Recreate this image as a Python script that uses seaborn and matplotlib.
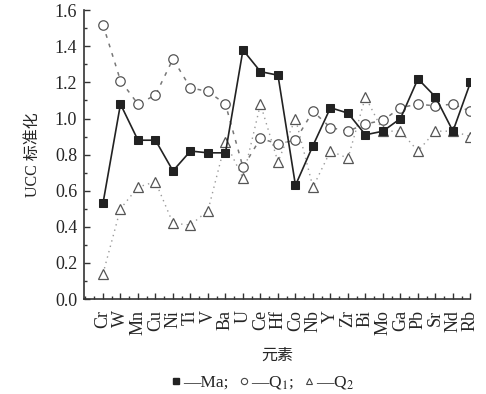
import numpy as np
import pandas as pd
import matplotlib
matplotlib.use("Agg")
import matplotlib.pyplot as plt
from matplotlib.lines import Line2D
from matplotlib.ticker import MultipleLocator
import seaborn as sns

elements = ["Cr", "W", "Mn", "Cu", "Ni", "Ti", "V", "Ba", "U", "Ce", "Hf",
            "Co", "Nb", "Y", "Zr", "Bi", "Mo", "Ga", "Pb", "Sr", "Nd", "Rb"]
ma = [0.53, 1.08, 0.88, 0.88, 0.71, 0.82, 0.81, 0.81, 1.38, 1.26, 1.24,
      0.63, 0.85, 1.06, 1.03, 0.91, 0.93, 1.00, 1.22, 1.12, 0.93, 1.20]
q1 = [1.52, 1.21, 1.08, 1.13, 1.33, 1.17, 1.15, 1.08, 0.73, 0.89, 0.86,
      0.88, 1.04, 0.95, 0.93, 0.97, 0.99, 1.06, 1.08, 1.07, 1.08, 1.04]
q2 = [0.14, 0.50, 0.62, 0.65, 0.42, 0.41, 0.49, 0.87, 0.67, 1.08, 0.76,
      1.00, 0.62, 0.82, 0.78, 1.12, 0.93, 0.93, 0.82, 0.93, 0.93, 0.90]

sns.set_style("ticks")
plt.rcParams["font.family"] = ["Liberation Serif", "Noto Sans CJK SC", "DejaVu Sans"]
plt.rcParams["mathtext.fontset"] = "stix"
plt.rcParams["xtick.direction"] = "in"
plt.rcParams["ytick.direction"] = "in"

df = pd.DataFrame({"pos": np.arange(len(elements)), "Ma": ma, "Q1": q1, "Q2": q2})

fig = plt.figure(figsize=(4.86, 3.94), dpi=100)
ax = fig.add_axes([0.173, 0.241, 0.795, 0.733])

sns.lineplot(data=df, x="pos", y="Q2", ax=ax, color="#9a9a9a", linestyle=(0, (1, 3)),
             linewidth=1.0, marker="^", markersize=7.5, markerfacecolor="white",
             markeredgecolor="#555555", markeredgewidth=0.9, zorder=2)
sns.lineplot(data=df, x="pos", y="Q1", ax=ax, color="#777777", linestyle=(0, (2.5, 4)),
             linewidth=1.1, marker="o", markersize=6.8, markerfacecolor="white",
             markeredgecolor="#555555", markeredgewidth=0.9, zorder=3)
sns.lineplot(data=df, x="pos", y="Ma", ax=ax, color="#222222", linestyle="-",
             linewidth=1.2, marker="s", markersize=5.2, markerfacecolor="#222222",
             markeredgecolor="#222222", zorder=4)

ax.set_xlim(-1.08, 21.0)
ax.set_ylim(0.0, 1.6)
ax.set_xticks(np.arange(len(elements)))
ax.set_xticklabels(elements, rotation=90, fontsize=13)
ax.xaxis.set_minor_locator(MultipleLocator(0.5))
ax.set_yticks(np.arange(0, 1.61, 0.2))
ax.set_yticklabels([f"{v:.1f}" for v in np.arange(0, 1.61, 0.2)], fontsize=13)
ax.yaxis.set_minor_locator(MultipleLocator(0.1))
ax.tick_params(which="major", length=4, width=1.0, color="#333333")
ax.tick_params(which="minor", length=2, width=1.0, color="#333333")
ax.tick_params(axis="x", which="major", pad=8)
ax.tick_params(axis="y", which="major", pad=5)
for side in ("top", "right"):
    ax.spines[side].set_visible(False)
for side in ("left", "bottom"):
    ax.spines[side].set_linewidth(1.2)
    ax.spines[side].set_color("#333333")

ax.set_xlabel("元素", fontsize=11.5, labelpad=9)
ax.set_ylabel("UCC 标准化", fontsize=11.5, labelpad=10)

handles = [
    Line2D([], [], linestyle="none", marker="s", markersize=4, color="#222222"),
    Line2D([], [], linestyle="none", marker="o", markersize=4.5, markerfacecolor="white",
           markeredgecolor="#444444", markeredgewidth=0.8),
    Line2D([], [], linestyle="none", marker="^", markersize=5, markerfacecolor="white",
           markeredgecolor="#444444", markeredgewidth=0.8),
]
labels = ["—Ma;", "—Q$_1$;", "—Q$_2$"]
fig.legend(handles, labels, loc="center", bbox_to_anchor=(0.54, 0.028), ncol=3,
           frameon=False, fontsize=12.5, handlelength=0.6, handletextpad=0.1,
           columnspacing=0.6, borderpad=0)

fig.savefig("out.png", dpi=100)
